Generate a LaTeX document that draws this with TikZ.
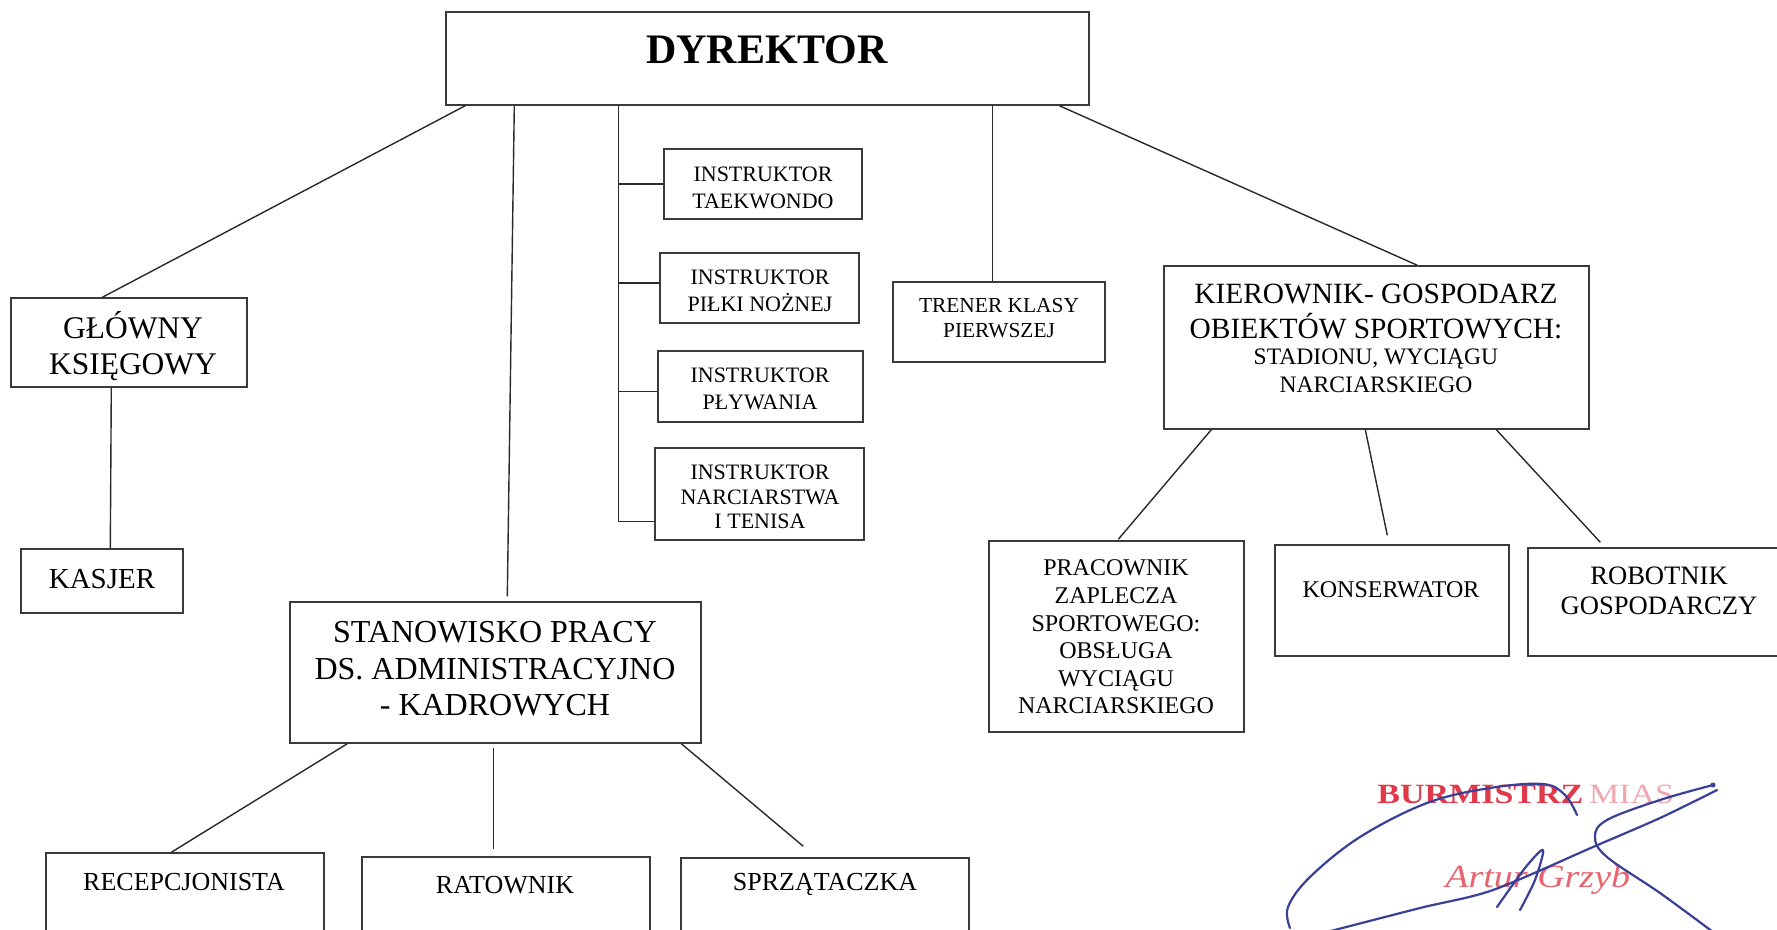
\documentclass[tikz,border=0pt]{standalone}
\usepackage{fontspec}
\setmainfont{Liberation Serif}
\usetikzlibrary{fit,calc}
\definecolor{boxgray}{HTML}{3A3A3A}
\definecolor{linegray}{HTML}{2A2A2A}
\definecolor{stampred}{HTML}{E03A4A}
\definecolor{stampfaint}{HTML}{F0A8B0}
\definecolor{stamplight}{HTML}{E8646E}
\definecolor{penblue}{HTML}{3A3F98}
\newcommand\fs[2]{\fontsize{#1}{#2}\selectfont}
\begin{document}
\begin{tikzpicture}[x=0.5pt,y=-0.5pt,
  box/.style={draw=boxgray,line width=0.7pt,inner sep=0pt,rectangle},
  conn/.style={draw=linegray,line width=0.7pt},
  txt/.style={align=center,inner sep=0pt,text=black},
  pen/.style={draw=penblue,line width=1.1pt,line cap=round,line join=round}]
\useasboundingbox (0,0) rectangle (1777,930);
\clip (0,0) rectangle (1777,930);
\fill[white] (0,0) rectangle (1777,930);
% boxes
\node[box,fit={(446,12) (1089,105)}] (dyr) {};
\node[box,fit={(11,298) (247,387)}] (glo) {};
\node[box,fit={(21,549) (183,613)}] (kas) {};
\node[box,fit={(664,149) (862,219)}] (tae) {};
\node[box,fit={(660,253) (859,323)}] (pil) {};
\node[box,fit={(658,351) (863,422)}] (ply) {};
\node[box,fit={(655,448) (864,540)}] (nar) {};
\node[box,fit={(893,282) (1105,362)}] (tre) {};
\node[box,fit={(1164,266) (1589,429)}] (kie) {};
\node[box,fit={(989,541) (1244,732)}] (pra) {};
\node[box,fit={(1275,545) (1509,656)}] (kon) {};
\node[box,fit={(1528,548) (1790,656)}] (rob) {};
\node[box,fit={(290,602) (701,743)}] (sta) {};
\node[box,fit={(46,853) (324,960)}] (rec) {};
\node[box,fit={(362,857) (650,960)}] (rat) {};
\node[box,fit={(681,858) (969,960)}] (spr) {};
% texts
\node[txt,font=\fs{21}{25}\bfseries] (tdyr) at (767,50) {DYREKTOR};
\node[txt,font=\fs{15.75}{18}] (tglo) at (133,346) {GŁÓWNY\\KSIĘGOWY};
\node[txt,font=\fs{14.5}{17}] (tkas) at (102,579) {KASJER};
\node[txt,font=\fs{11}{13.5}] (ttae) at (763,188) {INSTRUKTOR\\TAEKWONDO};
\node[txt,font=\fs{11}{13.5}] (tpil) at (760,291) {INSTRUKTOR\\PIŁKI NOŻNEJ};
\node[txt,font=\fs{11}{13.5}] (tply) at (760,389) {INSTRUKTOR\\PŁYWANIA};
\node[txt,font=\fs{11}{12.25}] (tnar) at (760,497) {INSTRUKTOR\\NARCIARSTWA\\I TENISA};
\node[txt,font=\fs{10.7}{12.5}] (ttre) at (999,318) {TRENER KLASY\\PIERWSZEJ};
\node[txt,font=\fs{14.7}{17.5}] (tkie1) at (1376,311) {KIEROWNIK- GOSPODARZ\\OBIEKTÓW SPORTOWYCH:};
\node[txt,font=\fs{11.8}{14}] (tkie2) at (1376,371) {STADIONU, WYCIĄGU\\NARCIARSKIEGO};
\node[txt,font=\fs{12}{13.8}] (tpra) at (1116,637) {PRACOWNIK\\ZAPLECZA\\SPORTOWEGO:\\OBSŁUGA\\WYCIĄGU\\NARCIARSKIEGO};
\node[txt,font=\fs{12}{14}] (tkon) at (1391,590) {KONSERWATOR};
\node[txt,font=\fs{13.3}{15.3}] (trob) at (1659,591) {ROBOTNIK\\GOSPODARCZY};
\node[txt,font=\fs{16}{18.25}] (tsta) at (495,669) {STANOWISKO PRACY\\DS. ADMINISTRACYJNO\\- KADROWYCH};
\node[txt,font=\fs{13}{15}] (trec) at (184,882) {RECEPCJONISTA};
\node[txt,font=\fs{13}{15}] (trat) at (505,885) {RATOWNIK};
\node[txt,font=\fs{13}{15}] (tspr) at (825,884) {SPRZĄTACZKA};
% connectors
\coordinate (brk) at ($(dyr.south west)+(173,0)$);
\draw[conn] ($(dyr.south west)+(20,0)$) -- ($(glo.north west)+(92,0)$);
\draw[conn] ($(dyr.south west)+(69,0)$) -- ($(sta.north west)+(218,-5)$);
\draw[conn] (brk) |- ($(nar.south west)+(0,-19)$);
\draw[conn] (brk |- tae.west) -- (tae.west);
\draw[conn] (brk |- {$(pil.west)+(0,-5)$}) -- ($(pil.west)+(0,-5)$);
\draw[conn] (brk |- {$(ply.west)+(0,5)$}) -- ($(ply.west)+(0,5)$);
\draw[conn] ($(dyr.south west)+(547,0)$) -- ($(tre.north west)+(100,0)$);
\draw[conn] ($(dyr.south west)+(614,0)$) -- ($(kie.north west)+(254,0)$);
\draw[conn] ($(glo.south west)+(101,0)$) -- ($(kas.north west)+(90,0)$);
\draw[conn] ($(sta.south west)+(58,0)$) -- ($(rec.north west)+(126,0)$);
\draw[conn] ($(sta.south west)+(204,4)$) -- ($(rat.north west)+(132,-7)$);
\draw[conn] ($(sta.south west)+(392,0)$) -- ($(spr.north west)+(123,-11)$);
\draw[conn] ($(kie.south west)+(48,0)$) -- ($(pra.north west)+(130,-1)$);
\draw[conn] ($(kie.south west)+(202,0)$) -- ($(kon.north west)+(113,-9)$);
\draw[conn] ($(kie.south west)+(333,0)$) -- ($(rob.north west)+(73,-5)$);
% stamp
\node[anchor=west,inner sep=0pt,text=stampred,font=\fs{17}{20}] (stamp1) at (1377,794)
  {\scalebox{1}[0.82]{\textbf{BURMISTRZ}\,\textcolor{stampfaint}{MIAS}}};
\node[anchor=west,inner sep=0pt,text=stamplight,font=\fs{19}{22}\itshape] (stamp2) at (1445,880)
  {\scalebox{1}[0.85]{Artur Grzyb}};
% signature
\draw[pen] plot[smooth,tension=0.6] coordinates {(1290,928) (1288,907) (1310,877) (1360,837) (1427,803) (1490,788) (1543,784) (1565,795) (1577,815)};
\draw[pen] plot[smooth,tension=0.5] coordinates {(1327,932) (1420,908) (1493,890) (1593,847) (1660,818) (1717,790)};
\draw[pen] plot[smooth,tension=0.6] coordinates {(1713,785) (1660,800) (1607,820) (1595,837) (1607,857) (1660,893) (1713,932)};
\draw[pen] plot[smooth,tension=0.5] coordinates {(1497,907) (1525,868) (1543,850) (1535,880) (1520,910)};
\fill[penblue] (1713,785) circle (2.5);
\end{tikzpicture}
\end{document}
